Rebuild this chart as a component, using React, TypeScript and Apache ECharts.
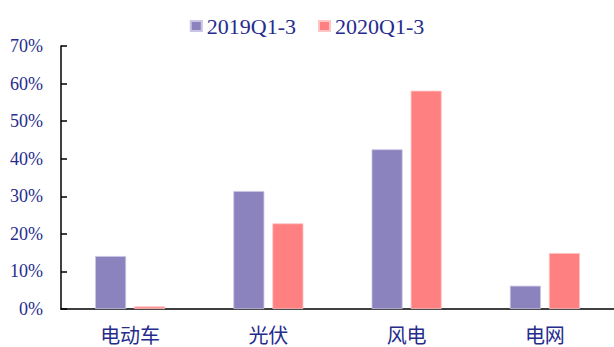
import React, { useEffect, useRef } from "react";
import * as echarts from "echarts";

const categories = ["电动车", "光伏", "风电", "电网"];
const seriesNames = ["2019Q1-3", "2020Q1-3"];
const values2019 = [14.1, 31.4, 42.5, 6.2];
const values2020 = [0.7, 22.8, 58.1, 14.9];
const colors = ["#8B83BE", "#FF8080"];
const textColor = "#262C8C";
const fontFamily = "'Liberation Serif', 'Noto Sans CJK SC', serif";

export default function App() {
  const ref = useRef<HTMLDivElement>(null);

  useEffect(() => {
    if (!ref.current) return;
    const chart = echarts.init(ref.current, null, { renderer: "svg" });
    chart.setOption({
      animation: false,
      backgroundColor: "#ffffff",
      legend: {
        top: 10,
        left: "center",
        itemWidth: 11,
        itemHeight: 10,
        itemGap: 22,
        icon: "rect",
        textStyle: { color: textColor, fontSize: 22, fontFamily },
        data: seriesNames,
      },
      grid: { left: 61, right: 0, top: 46, bottom: 38, containLabel: false },
      xAxis: {
        type: "category",
        data: categories,
        axisLine: { lineStyle: { color: "#000", width: 1.5 } },
        axisTick: { inside: true, length: 6, lineStyle: { color: "#000", width: 1.5 } },
        axisLabel: {
          color: textColor,
          fontSize: 20,
          lineHeight: 20,
          margin: 15,
          fontFamily: "'Noto Sans CJK SC', sans-serif",
        },
      },
      yAxis: {
        type: "value",
        min: 0,
        max: 70,
        interval: 10,
        splitLine: { show: false },
        axisLine: { show: true, lineStyle: { color: "#000", width: 1.5 } },
        axisTick: { show: true, inside: true, length: 6, lineStyle: { color: "#000", width: 1.5 } },
        axisLabel: {
          color: textColor,
          fontSize: 18,
          margin: 18,
          fontFamily,
          formatter: "{value}%",
        },
      },
      series: [
        {
          name: seriesNames[0],
          type: "bar",
          data: values2019,
          barWidth: 31,
          barGap: "26%",
          itemStyle: { color: colors[0], borderColor: "#c9c4e4", borderWidth: 0.8 },
        },
        {
          name: seriesNames[1],
          type: "bar",
          data: values2020,
          barWidth: 31,
          barGap: "26%",
          itemStyle: { color: colors[1], borderColor: "#ffc4c4", borderWidth: 0.8 },
        },
      ],
    });
    return () => chart.dispose();
  }, []);

  return (
    <div
      ref={ref}
      style={{ position: "fixed", left: 0, top: 0, width: 614, height: 347 }}
    />
  );
}
